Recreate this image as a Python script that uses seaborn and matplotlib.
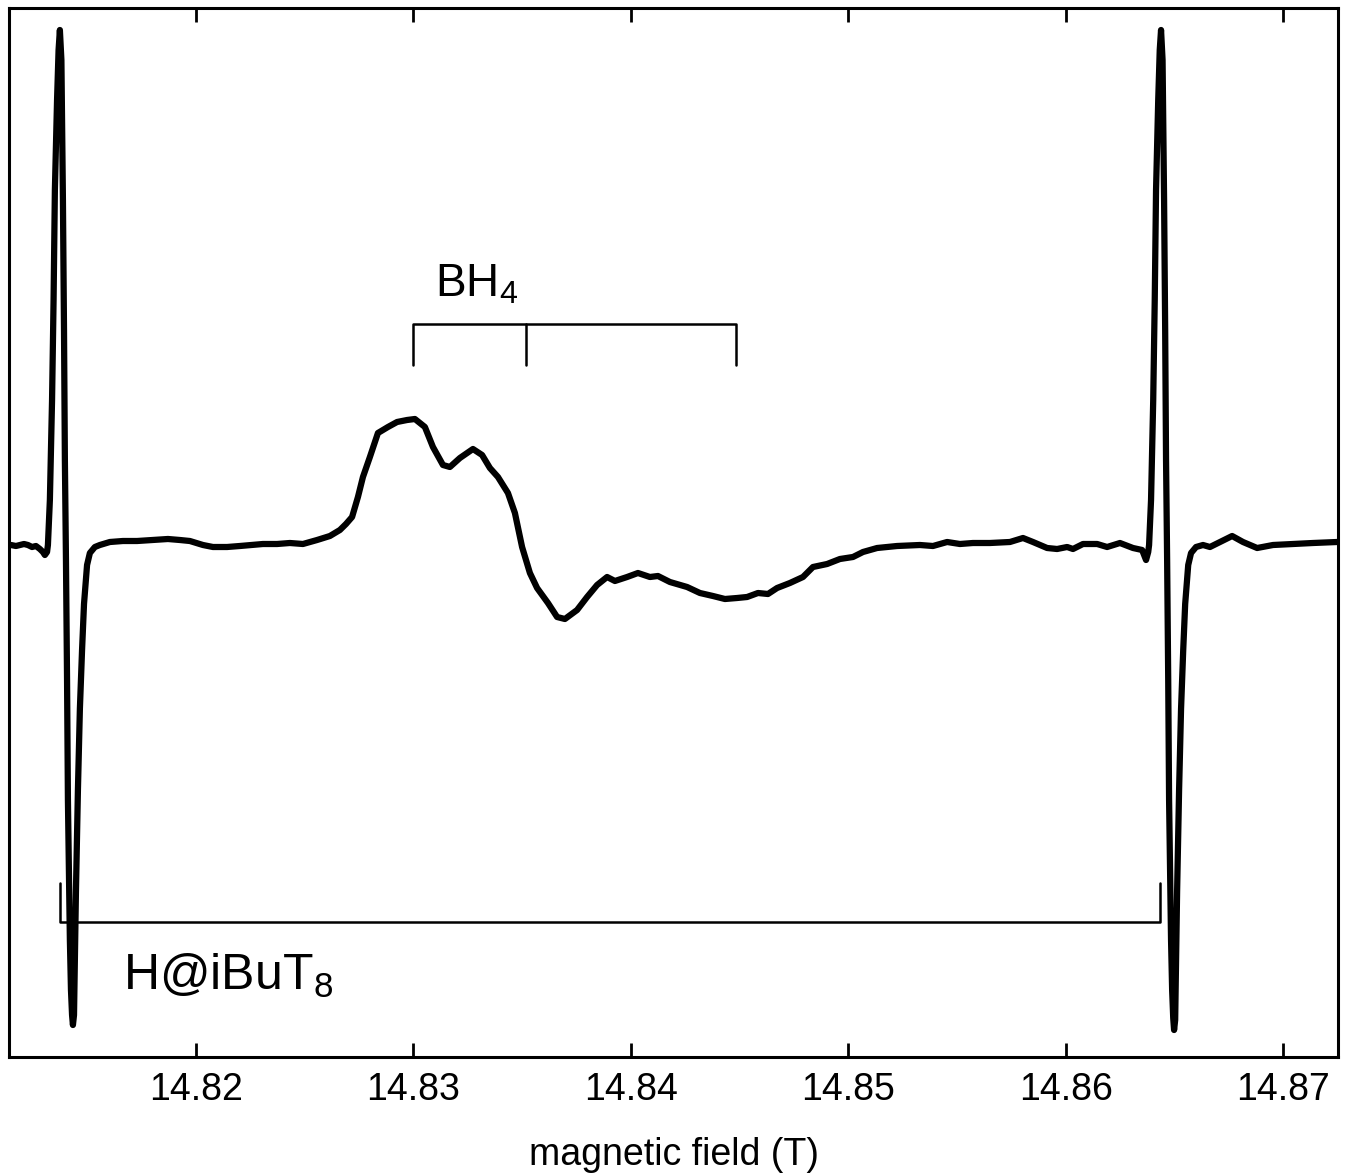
import matplotlib
matplotlib.use('Agg')
import matplotlib.pyplot as plt
import pandas as pd
import seaborn as sns

# EPR spectrum: field in T, intensity in arbitrary units
field = [
    14.81149, 14.81172, 14.81190, 14.81209, 14.81227, 14.81246, 14.81264, 14.81282,
    14.81296, 14.81305, 14.81315, 14.81319, 14.81328, 14.81338, 14.81345, 14.81351,
    14.81361, 14.81368, 14.81374, 14.81381, 14.81388, 14.81393, 14.81397, 14.81402,
    14.81407, 14.81411, 14.81416, 14.81420, 14.81425, 14.81430, 14.81434, 14.81439,
    14.81443, 14.81448, 14.81457, 14.81466, 14.81476, 14.81485, 14.81499, 14.81512,
    14.81535, 14.81558, 14.81604, 14.81664, 14.81729, 14.81802, 14.81871, 14.81926,
    14.81972, 14.82032, 14.82078, 14.82143, 14.82202, 14.82308, 14.82373, 14.82432,
    14.82492, 14.82557, 14.82616, 14.82662, 14.82690, 14.82718, 14.82745, 14.82768,
    14.82800, 14.82837, 14.82883, 14.82925, 14.82971, 14.83007, 14.83053, 14.83090,
    14.83136, 14.83168, 14.83214, 14.83274, 14.83316, 14.83352, 14.83389, 14.83435,
    14.83467, 14.83500, 14.83536, 14.83569, 14.83619, 14.83661, 14.83697, 14.83753,
    14.83799, 14.83845, 14.83891, 14.83927, 14.83983, 14.84033, 14.84088, 14.84125,
    14.84180, 14.84259, 14.84318, 14.84378, 14.84433, 14.84489, 14.84535, 14.84585,
    14.84631, 14.84673, 14.84732, 14.84792, 14.84838, 14.84903, 14.84962, 14.85022,
    14.85068, 14.85133, 14.85225, 14.85330, 14.85390, 14.85455, 14.85514, 14.85574,
    14.85652, 14.85744, 14.85804, 14.85850, 14.85915, 14.85961, 14.86007, 14.86034,
    14.86080, 14.86145, 14.86191, 14.86250, 14.86310, 14.86352, 14.86370, 14.86380,
    14.86384, 14.86393, 14.86403, 14.86410, 14.86416, 14.86426, 14.86433, 14.86439,
    14.86446, 14.86453, 14.86458, 14.86462, 14.86467, 14.86472, 14.86476, 14.86481,
    14.86485, 14.86490, 14.86495, 14.86499, 14.86504, 14.86508, 14.86513, 14.86522,
    14.86531, 14.86541, 14.86550, 14.86564, 14.86577, 14.86600, 14.86632, 14.86664,
    14.86710, 14.86766, 14.86816, 14.86881, 14.86954, 14.87046, 14.87138, 14.87249,
]
intensity = [
    -1, -2, -1, 0, -1, -3, -2, -5,
    -8, -11, -8, -1, 44, 144, 244, 354,
    444, 494, 514, 484, 344, 214, 84, -16,
    -136, -256, -336, -396, -446, -471, -481, -471,
    -416, -346, -246, -165, -106, -60, -21, -9,
    -3, -1, 2, 3, 3, 4, 5, 4,
    3, -1, -3, -3, -2, 0, 0, 1,
    0, 4, 8, 14, 20, 27, 47, 67,
    87, 111, 117, 122, 124, 125, 117, 97,
    79, 77, 86, 95, 89, 76, 67, 51,
    31, -3, -29, -44, -59, -73, -75, -66,
    -53, -41, -33, -37, -33, -29, -33, -32,
    -38, -43, -49, -52, -55, -54, -53, -49,
    -50, -44, -39, -33, -23, -20, -15, -13,
    -8, -4, -2, -1, -2, 2, 0, 1,
    1, 2, 6, 2, -4, -5, -3, -5,
    0, 0, -3, 1, -4, -6, -16, -8,
    -1, 44, 144, 244, 354, 444, 494, 514,
    484, 344, 214, 84, -16, -136, -256, -336,
    -396, -446, -474, -486, -476, -421, -346, -246,
    -165, -106, -60, -21, -9, -3, -1, -3,
    2, 8, 2, -4, -1, 0, 1, 2,
]

# stick diagrams (line positions in T)
bh4_lines = [14.82998, 14.83518, 14.84484]
h_lines = [14.81374, 14.86434]
bh4_label = 'BH$_4$'
h_label = 'H@iBuT$_8$'
xticks = [14.82, 14.83, 14.84, 14.85, 14.86, 14.87]

df = pd.DataFrame({'field': field, 'intensity': intensity})

sns.set_style('ticks')
plt.rcParams['font.family'] = ['Liberation Sans', 'DejaVu Sans']
plt.rcParams['mathtext.fontset'] = 'custom'
plt.rcParams['mathtext.rm'] = 'Liberation Sans'
plt.rcParams['mathtext.it'] = 'Liberation Sans:italic'
plt.rcParams['mathtext.bf'] = 'Liberation Sans:bold'
plt.rcParams['text.color'] = 'black'
plt.rcParams['axes.labelcolor'] = 'black'
plt.rcParams['xtick.color'] = 'black'
plt.rcParams['xtick.labelcolor'] = 'black'

fig = plt.figure(figsize=(13.48, 11.76), dpi=100)
ax = fig.add_axes([0.00668, 0.10119, 0.98591, 0.89201])

sns.lineplot(data=df, x='field', y='intensity', color='black', linewidth=4.5,
             sort=False, estimator=None, ax=ax,
             solid_joinstyle='round', solid_capstyle='round')

# BH4 stick pattern
ax.plot([bh4_lines[0], bh4_lines[0], bh4_lines[2], bh4_lines[2]],
        [179, 220, 220, 179], color='black', lw=1.8)
ax.plot([bh4_lines[1], bh4_lines[1]], [220, 179], color='black', lw=1.8)
ax.text(14.83099, 247, bh4_label, fontsize=33, ha='left', va='baseline')

# H@iBuT8 doublet
ax.plot([h_lines[0], h_lines[0], h_lines[1], h_lines[1]],
        [-339, -378, -378, -339], color='black', lw=1.8)
ax.text(14.81665, -446, h_label, fontsize=36, ha='left', va='baseline')

ax.set_xlim(14.81140, 14.87253)
ax.set_ylim(-513, 536)
ax.set_xticks(xticks)
ax.set_xticklabels([f'{t:.2f}' for t in xticks])
ax.set_yticks([])
ax.set_ylabel('')
ax.set_xlabel('magnetic field (T)', fontsize=27, labelpad=21)
ax.tick_params(axis='x', direction='in', top=True, bottom=True,
               length=10, width=2, labelsize=27, pad=11)
for s in ax.spines.values():
    s.set_linewidth(2.2)
    s.set_color('black')

fig.savefig('out.png', dpi=100)
